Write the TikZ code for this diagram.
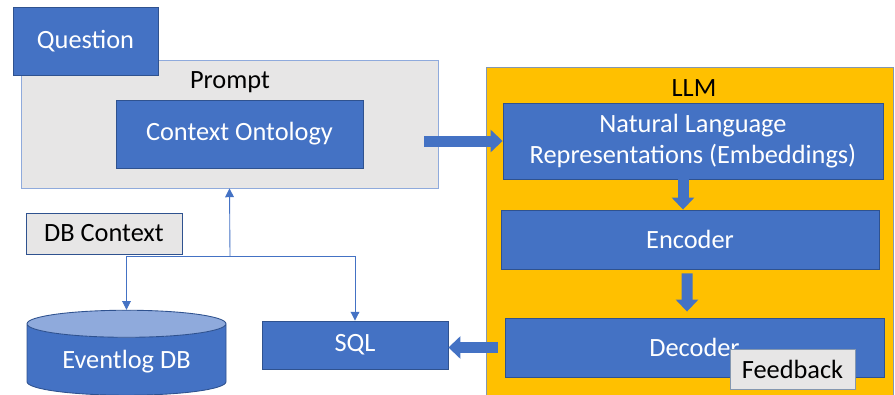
\documentclass[tikz,border=0pt]{standalone}
\usepackage{fontspec}
\setmainfont{Carlito}
\usepackage{tikz}
\usetikzlibrary{calc,arrows.meta,shapes.geometric}
\definecolor{boxblue}{HTML}{4472C4}
\definecolor{boxline}{HTML}{2F528F}
\definecolor{lightblue}{HTML}{8FAADC}
\definecolor{boxgray}{HTML}{E7E6E6}
\definecolor{llmorange}{HTML}{FFC000}
\definecolor{frameline}{HTML}{8497B0}

\begin{document}
\begin{tikzpicture}[every node/.style={inner sep=2,font=\fontsize{15}{17.6}\selectfont},
	bluebox/.style={draw=boxline,fill=boxblue,text=white,line width=.5pt},
	graybox/.style={draw=boxline,fill=boxgray,text=black,line width=.5pt},
	blk/.style={draw=boxblue,line width=.22cm,-{Triangle[width=.44cm,length=.24cm]}},
	link/.style={draw=boxblue,line width=.5pt,-{Triangle[width=5pt,length=5pt]}}]
\useasboundingbox (0,0) rectangle (17.9,-7.88);

% prompt side
\node[graybox,draw=lightblue,minimum width=8.34cm,minimum height=2.56cm] (prompt) at (4.59,-2.48) {};
\node[bluebox,minimum width=2.9cm,minimum height=1.36cm] (question) at (1.71,-.82) {Question};
\node (promptl) at (4.6,-1.64) {Prompt};
\node[bluebox,minimum width=4.94cm,minimum height=1.36cm] (ctx) at (4.79,-2.68) {Context Ontology};
\node[graybox,minimum width=3.12cm,minimum height=.82cm] (dbctx) at (2.08,-4.67) {DB Context};

% database and query
\node[cylinder,shape border rotate=90,aspect=.2,draw=boxline,line width=.5pt,
	cylinder uses custom fill,cylinder body fill=boxblue,cylinder end fill=lightblue,
	text=white,minimum width=3.98cm,minimum height=1.7cm] (db) at (2.53,-7.23) {Eventlog DB};
\node[bluebox,minimum width=3.72cm,minimum height=.96cm] (sql) at (7.1,-6.9) {SQL};

% LLM
\node[draw=frameline,fill=llmorange,minimum width=8.14cm,minimum height=6.58cm] (llm) at (13.79,-4.63) {};
\node (llml) at (13.88,-1.76) {LLM};
\node[bluebox,minimum width=7.6cm,minimum height=1.52cm,align=center] (nl) at (13.86,-2.82)
	{Natural Language\\Representations (Embeddings)};
\node[bluebox,minimum width=7.56cm,minimum height=1.18cm] (enc) at (13.8,-4.79) {Encoder};
\node[bluebox,minimum width=7.58cm,minimum height=1.18cm] (dec) at (13.89,-6.95) {Decoder};
\node[graybox,draw=frameline,minimum width=2.5cm,minimum height=.8cm] (fb) at (15.85,-7.38) {Feedback};

% block arrows
\draw[blk] ($(prompt.east |- nl.west)+(-.28,0)$) -- (nl.west);
\draw[blk] ($(nl.south)+(-.2,.12)$) -- ($(enc.north)+(-.14,0)$);
\draw[blk] ($(enc.south)+(-.06,-.08)$) -- ($(dec.north)+(-.15,.12)$);
\draw[blk] ($(dec.west)+(-.14,0)$) -- (sql.east |- dec.west);

% thin links
\coordinate (j) at (4.6,-5.12);
\draw[link] (j) -- (prompt.south);
\draw[link] (j) -| (db.north);
\draw[link] (j) -| (sql.north);
\end{tikzpicture}
\end{document}
